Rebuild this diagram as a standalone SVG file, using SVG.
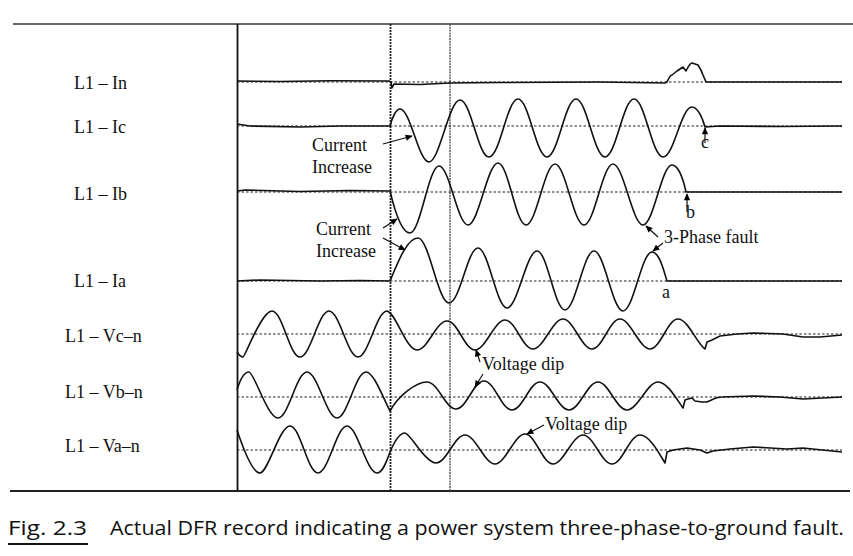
<svg xmlns="http://www.w3.org/2000/svg" width="853" height="556" viewBox="0 0 853 556">
<defs>
<marker id="ah" viewBox="0 0 10 10" refX="9" refY="5" markerWidth="8" markerHeight="7" markerUnits="userSpaceOnUse" orient="auto"><path d="M0,0.5 L10,5 L0,9.5 Z" fill="#000"/></marker>
</defs>
<style>
.lbl{font-family:"Liberation Serif","Times New Roman",serif;font-size:18px;fill:#111}
.cap{font-family:"Open Sans","Noto Sans",sans-serif;font-size:20px;fill:#111}
.tr{fill:none;stroke:#111;stroke-width:1.6;stroke-linejoin:round}
.zero{stroke:#222;stroke-width:1.1;stroke-dasharray:2.5,2}
.arr{stroke:#111;stroke-width:1.2;fill:none;marker-end:url(#ah)}
</style>
<rect width="853" height="556" fill="#fff"/>
<g id="frame">
<line x1="13" y1="24" x2="853" y2="24" stroke="#333" stroke-width="1.6"/>
<line x1="10" y1="491" x2="850" y2="491" stroke="#222" stroke-width="2"/>
<line x1="237.5" y1="24" x2="237.5" y2="491" stroke="#111" stroke-width="1.8"/>
<line x1="390.5" y1="24" x2="390.5" y2="491" stroke="#222" stroke-width="1.8" stroke-dasharray="2,1"/>
<line x1="450" y1="24" x2="450" y2="491" stroke="#555" stroke-width="1.4" stroke-dasharray="2,0.8"/>
</g>
<g id="zero-lines">
<line class="zero" x1="237" y1="82" x2="842" y2="82"/>
<line class="zero" x1="237" y1="126" x2="842" y2="126"/>
<line class="zero" x1="237" y1="192" x2="842" y2="192"/>
<line class="zero" x1="237" y1="281" x2="842" y2="281"/>
<line class="zero" x1="237" y1="334" x2="842" y2="334"/>
<line class="zero" x1="237" y1="397" x2="842" y2="397"/>
<line class="zero" x1="237" y1="450" x2="842" y2="450"/>
</g>
<g id="trace-In">
<path class="tr" d="M237,81 L280,81.5 L330,80.8 L389,81 L391,82 L392,88 L394,84 L420,84.5 L450,83 L500,82.5 L600,82 L665,83 L667,82 C669,78 670,75 672,75 L677,71 L683,67 L686,71 C688,67 690,63 692,63 L698,65 C700,68 702,72 703,75 L706,82 L760,82 L842,82"/>
<text class="lbl" x="74" y="89">L1 – In</text>
</g>
<g id="trace-Ic">
<path class="tr" d="M237,124 L250,126 L300,127 L340,126 L389,126 L390,126 C392,118 396,109 400,109 C410.5,109 418.5,162 429,162 S449,100 460,100 S478,157 489,157 S507,99 518,99 S536,157 547,157 S565,99 576,99 S594,157 605,157 S623,99 634,99 S652,157 663,157 S681,107 692,107 C697,107 702,116 705,127 L720,126 L780,126.5 L842,126"/>
<text class="lbl" x="74" y="133">L1 – Ic</text>
</g>
<g id="trace-Ib">
<path class="tr" d="M237,191 L245,190 L300,191.5 L350,190.5 L390,191 C395,212 402,233 410,233 C420.5,233 428.5,166 439,166 S457.5,225 468,225 S487.5,163 498,163 S515.5,225 526,225 S544.5,164 555,164 S573.5,225 584,225 S602.5,164 613,164 S632.5,225 643,225 S661.5,165 672,165 C678,165 683,178 686,192 L700,192 L842,192"/>
<text class="lbl" x="74" y="200">L1 – Ib</text>
</g>
<g id="trace-Ia">
<path class="tr" d="M237,281 L260,280 L320,281 L360,280.5 L390,281 C398,262 407,238 418,238 C429,238 438,303 449,303 S467.5,248 478,248 S496.5,308 507,308 S526.5,251 537,251 S554.5,310 565,310 S583.5,251 594,251 S612.5,311 623,311 S641.5,252 652,252 C659,252 663,268 667,281 L842,281"/>
<text class="lbl" x="74" y="287">L1 – Ia</text>
</g>
<g id="trace-Vc">
<path class="tr" d="M237,352 C239,355 241,357 243,357 S261.5,311 272,311 S289.5,357 300,357 S318.5,311 329,311 S347.5,357 358,357 S376.5,311 387,311 C396,313 406,350 417,350 C428,350 436,321 447,321 S464.5,350 475,350 S494.5,320 505,320 S522.5,349 533,349 S552.5,319 563,319 S581.5,349 592,349 S609.5,319 620,319 S639.5,349 650,349 S667.5,319 678,319 C688,319 697,344 705,349 L707,342 L712,340 L720,336 L737,334 L753,333 L783,334 L803,337 L820,337 L842,335"/>
<text class="lbl" x="65" y="342">L1 – Vc–n</text>
</g>
<g id="trace-Vb">
<path class="tr" d="M237,390 C240,380 244,372 249,372 S267.5,418 278,418 S296.5,372 307,372 S326.5,418 337,418 S355.5,372 366,372 C374,372 384,400 390,411 C398,396 416,382 427,382 S445.5,409 456,409 S473.5,381 484,381 S501.5,410 512,410 S529.5,382 540,382 S558.5,410 569,410 S587.5,382 598,382 S616.5,410 627,410 S647.5,382 658,382 C667,382 676,398 683,408 L685,400 L688,399 L692,398 L695,401 L702,402 L707,402 C712,400 716,397 722,397 L753,396 L780,397 L803,399 L842,397"/>
<text class="lbl" x="65" y="398">L1 – Vb–n</text>
</g>
<g id="trace-Va">
<path class="tr" d="M237,430 C242,445 252,473 260,473 S279.5,426 290,426 S307.5,473 318,473 S336.5,426 347,426 S366.5,473 377,473 C383,473 387,460 390,452 C395,440 400,433 405,433 S425.5,463 436,463 S454.5,435 465,435 S484.5,464 495,464 S514.5,434 525,434 S542.5,464 553,464 S572.5,435 583,435 S601.5,464 612,464 S629.5,435 640,435 C650,435 660,455 665,463 L667,452 L673,450 L687,448 L700,450 L707,453 L713,451 L730,449 L753,447 L787,449 L803,448 L842,452"/>
<text class="lbl" x="65" y="452">L1 – Va–n</text>
</g>
<g id="annotations">
<text class="lbl" x="312" y="151">Current</text>
<text class="lbl" x="312" y="173">Increase</text>
<text class="lbl" x="316" y="235">Current</text>
<text class="lbl" x="316" y="257">Increase</text>
<text class="lbl" x="664" y="243">3-Phase fault</text>
<text class="lbl" x="482" y="370">Voltage dip</text>
<text class="lbl" x="545" y="430">Voltage dip</text>
<text class="lbl" x="701" y="148">c</text>
<text class="lbl" x="686" y="218">b</text>
<text class="lbl" x="662" y="298">a</text>
</g>
<g id="connectors">
<line class="arr" x1="383" y1="144" x2="412" y2="136"/>
<line class="arr" x1="383" y1="228" x2="397" y2="219"/>
<line class="arr" x1="383" y1="238" x2="405" y2="250"/>
<line class="arr" x1="658" y1="237" x2="646" y2="226"/>
<line class="arr" x1="663" y1="243" x2="653" y2="251"/>
<line class="arr" x1="480" y1="362" x2="476" y2="350"/>
<line class="arr" x1="483" y1="374" x2="475" y2="387"/>
<line class="arr" x1="544" y1="425" x2="527" y2="434"/>
<line class="arr" x1="705" y1="143" x2="705" y2="128"/>
<line class="arr" x1="687" y1="212" x2="687" y2="194"/>
</g>
<g id="caption">
<text class="cap" x="8" y="535" textLength="79" lengthAdjust="spacingAndGlyphs">Fig. 2.3</text>
<line x1="8" y1="544" x2="88" y2="544" stroke="#111" stroke-width="2"/>
<text class="cap" x="110" y="535" textLength="734" lengthAdjust="spacingAndGlyphs">Actual DFR record indicating a power system three-phase-to-ground fault.</text>
</g>
</svg>
